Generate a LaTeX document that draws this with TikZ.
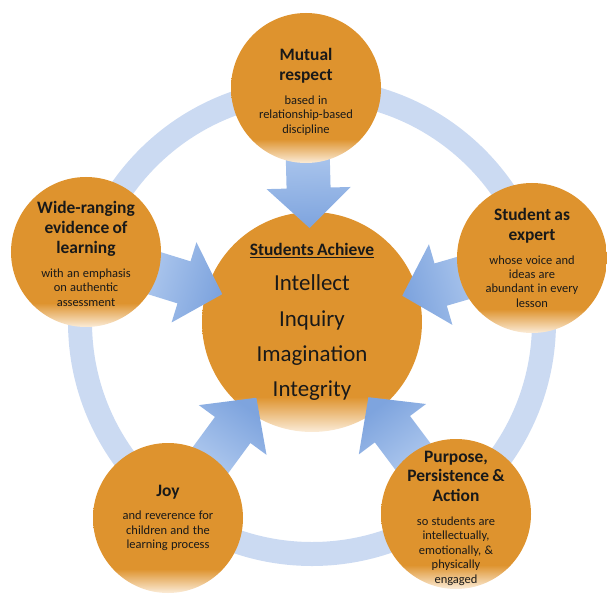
\documentclass[tikz,border=0pt]{standalone}
\usepackage{fontspec}
\setmainfont{Carlito}
\usetikzlibrary{positioning, calc}
\definecolor{OrbColor}{RGB}{222,147,46}
\definecolor{OrbPale}{RGB}{251,236,216}
\definecolor{RingColor}{RGB}{203,218,242}
\definecolor{ArrowLight}{RGB}{190,212,243}
\definecolor{ArrowDark}{RGB}{126,164,222}
\pgfdeclareverticalshading{orbfade}{100bp}{color(0bp)=(OrbPale); color(25bp)=(OrbPale); color(33bp)=(OrbColor); color(100bp)=(OrbColor)}
\newcommand{\headfont}{\bfseries\fontsize{17.5}{20}\selectfont}
\newcommand{\notefont}{\mdseries\fontsize{12.5}{14.5}\selectfont}

\begin{document}
\begin{tikzpicture}[
    x=1bp, y=-1bp,
    every node/.style={text=black!90},
    pillar/.style={circle, minimum size=150bp, inner sep=0pt, shade, shading=orbfade},
    hub/.style={circle, minimum size=220bp, inner sep=0pt, shade, shading=orbfade},
    pillartext/.style={text width=150bp, inner sep=0pt},
]
\useasboundingbox (0,0) rectangle (607,595);

% Helper for the block arrows (outer circle -> centre)
% #1=from node, #2=to node
\newcommand{\feedarrow}[2]{
    % Shading follows the arrow direction
    \pgfmathanglebetweenpoints{\pgfpointanchor{#1}{center}}{\pgfpointanchor{#2}{center}}
    \pgfmathsetmacro{\shadeang}{\pgfmathresult-90}
    % Points along the axis
    \coordinate (tip)  at ($(#2.center)!94bp!(#1.center)$);
    \coordinate (base) at ($(#2.center)!134bp!(#1.center)$);
    \coordinate (tail) at ($(#2.center)!200bp!(#1.center)$);
    \shade[top color=ArrowDark, bottom color=ArrowLight, shading angle=\shadeang]
        (tip) -- ($(base)!42bp!90:(tip)$) -- ($(base)!22bp!90:(tip)$)
        -- ($(tail)!22bp!90:(base)$) -- ($(tail)!22bp!-90:(base)$)
        -- ($(base)!22bp!-90:(tip)$) -- ($(base)!42bp!-90:(tip)$) -- cycle;
}

% Ring behind everything
\draw[RingColor, line width=24bp] (312,322) circle (232);

% Centre
\node[hub] (achieve) at (312,322) {};

% Outer circle centres (the arrows refer to them)
\path (306,88)  coordinate (mutual-c)
      (532,258) coordinate (expert-c)
      (86,252)  coordinate (evidence-c)
      (168,518) coordinate (joy-c)
      (456,514) coordinate (purpose-c);

% Arrows
\feedarrow{mutual-c}{achieve}
\feedarrow{expert-c}{achieve}
\feedarrow{evidence-c}{achieve}
\feedarrow{joy-c}{achieve}
\feedarrow{purpose-c}{achieve}

\node[pillar] (mutual)   at (mutual-c)   {};
\node[pillar] (expert)   at (expert-c)   {};
\node[pillar] (evidence) at (evidence-c) {};
\node[pillar] (joy)      at (joy-c)      {};
\node[pillar] (purpose)  at (purpose-c)  {};

% Texts
\node[pillartext] (achieve-text) at (achieve)
    {\centering\bfseries\fontsize{17.5}{18}\selectfont\underline{Students Achieve}\\
     \mdseries\fontsize{23}{35.5}\selectfont Intellect\\Inquiry\\Imagination\\Integrity\par};
\node[pillartext] (mutual-text) at ([yshift=-4bp]mutual.center)
    {\centering\headfont Mutual\\respect\\[9pt]\notefont based in\\relationship-based\\discipline\par};
\node[pillartext] (expert-text) at (expert)
    {\centering\headfont Student as\\expert\\[9pt]\notefont whose voice and\\ideas are\\abundant in every\\lesson\par};
\node[pillartext] (evidence-text) at ([yshift=-2bp]evidence.center)
    {\centering\headfont Wide-ranging\\evidence of\\learning\\[9pt]\notefont with an emphasis\\on authentic\\assessment\par};
\node[pillartext] (joy-text) at (joy)
    {\centering\headfont Joy\\[9pt]\notefont and reverence for\\children and the\\learning process\par};
\node[pillartext] (purpose-text) at ([yshift=-4bp]purpose.center)
    {\centering\headfont Purpose,\\Persistence \&\\Action\\[9pt]\notefont so students are\\intellectually,\\emotionally, \&\\physically\\engaged\par};

\end{tikzpicture}
\end{document}
